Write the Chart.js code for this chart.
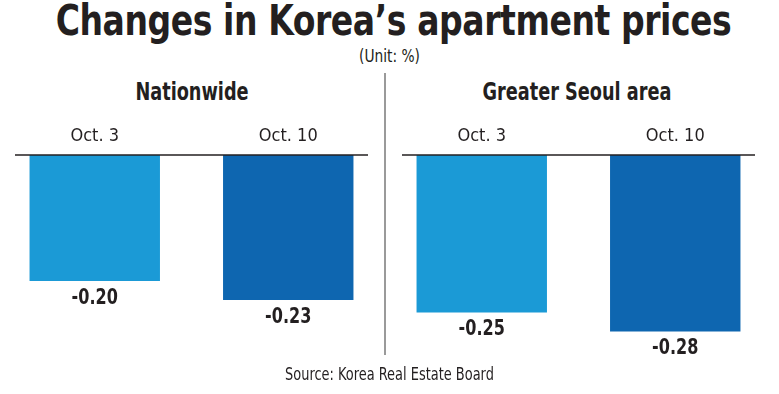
<!DOCTYPE html>
<html>
<head>
<meta charset="utf-8">
<script src="https://cdn.jsdelivr.net/npm/chart.js@4/dist/chart.umd.min.js"></script>
<style>
  html, body { margin: 0; padding: 0; background: #fff; }
  body { width: 779px; height: 394px; position: relative; overflow: hidden;
         font-family: "Liberation Sans Narrow", "DejaVu Sans Condensed", sans-serif; color: #231f20; }
  .txt { position: absolute; left: 0; width: 779px; text-align: center; white-space: nowrap; }
  #title { top: 0; left: 4px; font-size: 42px; line-height: 42px; font-weight: bold; letter-spacing: -0.5px; transform: scaleX(0.875); }
  #unit { top: 48px; font-size: 17px; line-height: 17px; transform: scaleX(0.9); }
  .head { position: absolute; top: 80px; font-size: 24px; line-height: 24px; font-weight: bold; text-align: center; white-space: nowrap; transform: scaleX(0.82); }
  #source { top: 365px; font-size: 18px; line-height: 18px; transform: scaleX(0.8); }
  #divider { position: absolute; left: 384px; top: 73px; width: 1.5px; height: 282px; background: #9a9a9a; }
  .box { position: absolute; top: 110px; width: 387px; height: 270px; }
</style>
</head>
<body>
<div id="title" class="txt">Changes in Korea’s apartment prices</div>
<div id="unit" class="txt">(Unit: %)</div>
<div class="head" style="left:-1px;width:386px;">Nationwide</div>
<div class="head" style="left:384px;width:386px;">Greater Seoul area</div>
<div id="divider"></div>
<div class="box" style="left:-2px;"><canvas id="left"></canvas></div>
<div class="box" style="left:385px;"><canvas id="right"></canvas></div>
<div id="source" class="txt">Source: Korea Real Estate Board</div>

<script>
const periods = ['Oct. 3', 'Oct. 10'];
const nationwide = [-0.20, -0.23];
const seoul = [-0.25, -0.28];
const barColors = ['#1b9ad6', '#0e66b0'];

const FONT = '"Liberation Sans Narrow", "DejaVu Sans Condensed", sans-serif';

// zero line (inset from the panel edges) and value labels under each bar
const decor = {
    id: 'decor',
    afterDatasetsDraw(chart) {
        const c = chart.ctx;
        const area = chart.chartArea;
        const y0 = chart.scales.y.getPixelForValue(0);
        c.save();
        c.strokeStyle = '#231f20';
        c.lineWidth = 1.5;
        c.beginPath();
        c.moveTo(area.left + 17, y0);
        c.lineTo(area.right - 17, y0);
        c.stroke();

        c.fillStyle = '#231f20';
        c.font = 'bold 21px ' + FONT;
        c.textAlign = 'center';
        c.textBaseline = 'top';
        const ds = chart.data.datasets[0];
        chart.getDatasetMeta(0).data.forEach((bar, i) => {
            c.save();
            c.translate(bar.x, bar.y + 7);
            c.scale(0.85, 1);
            c.fillText(ds.data[i].toFixed(2), 0, 0);
            c.restore();
        });
        c.restore();
    }
};

function makeChart(id, values) {
    return new Chart(document.getElementById(id), {
        type: 'bar',
        data: {
            labels: periods,
            datasets: [{
                data: values,
                backgroundColor: barColors,
                borderWidth: 0,
                barPercentage: 0.674,
                categoryPercentage: 1
            }]
        },
        options: {
            responsive: true,
            maintainAspectRatio: false,
            animation: false,
            layout: { padding: { left: 0, right: 0, top: 0, bottom: 36 } },
            plugins: { legend: { display: false }, tooltip: { enabled: false } },
            scales: {
                x: {
                    position: 'top',
                    grid: { display: false, drawTicks: false },
                    border: { display: false },
                    ticks: { color: '#231f20', padding: 8, font: { family: FONT, size: 18 } },
                    afterFit(scale) { scale.height = 45; }
                },
                y: {
                    display: false,
                    min: -0.3,
                    max: 0
                }
            }
        },
        plugins: [decor]
    });
}

makeChart('left', nationwide);
makeChart('right', seoul);
</script>
</body>
</html>
